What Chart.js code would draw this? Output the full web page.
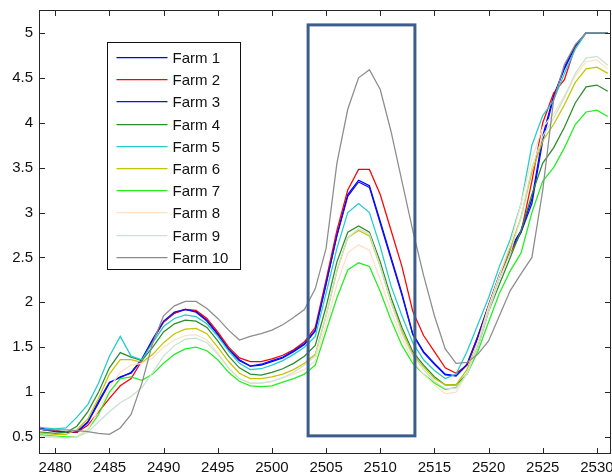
<!DOCTYPE html>
<html>
<head>
<meta charset="utf-8">
<script src="https://cdn.jsdelivr.net/npm/chart.js@4.4.1/dist/chart.umd.min.js"></script>
<style>
  html, body { margin: 0; padding: 0; background: #fff; }
  canvas { display: block; }
</style>
</head>
<body>
<canvas id="spectra" width="612" height="476"></canvas>
<script>
// Wavelength samples (one per unit) and per-farm readings.
const wavelengths = [
  2478, 2479, 2480, 2481, 2482, 2483, 2484, 2485, 2486, 2487,
  2488, 2489, 2490, 2491, 2492, 2493, 2494, 2495, 2496, 2497,
  2498, 2499, 2500, 2501, 2502, 2503, 2504, 2505, 2506, 2507,
  2508, 2509, 2510, 2511, 2512, 2513, 2514, 2515, 2516, 2517,
  2518, 2519, 2520, 2521, 2522, 2523, 2524, 2525, 2526, 2527,
  2528, 2529, 2530, 2531
];

const farm1 = [
  0.61, 0.59, 0.57, 0.55, 0.55, 0.66, 0.88, 1.10, 1.17, 1.21,
  1.36, 1.58, 1.78, 1.88, 1.92, 1.90, 1.80, 1.65, 1.48, 1.36,
  1.29, 1.30, 1.34, 1.38, 1.45, 1.53, 1.68, 2.20, 2.75, 3.20,
  3.36, 3.30, 2.90, 2.50, 2.10, 1.65, 1.45, 1.32, 1.20, 1.18,
  1.30, 1.60, 1.95, 2.30, 2.60, 2.80, 3.15, 3.85, 4.30, 4.60,
  4.85, 5.00, 5.00, 5.00
];
const farm2 = [
  0.60, 0.58, 0.57, 0.55, 0.55, 0.63, 0.78, 0.93, 1.07, 1.15,
  1.35, 1.58, 1.78, 1.88, 1.92, 1.91, 1.82, 1.67, 1.50, 1.38,
  1.34, 1.34, 1.37, 1.41, 1.47, 1.56, 1.72, 2.25, 2.80, 3.25,
  3.48, 3.48, 3.20, 2.80, 2.40, 1.90, 1.63, 1.45, 1.27, 1.21,
  1.30, 1.62, 1.97, 2.30, 2.55, 2.78, 3.35, 4.00, 4.33, 4.48,
  4.85, 5.00, 5.00, 5.00
];
const farm3 = [
  0.60, 0.58, 0.56, 0.55, 0.56, 0.67, 0.90, 1.11, 1.16, 1.22,
  1.37, 1.59, 1.79, 1.89, 1.92, 1.89, 1.79, 1.64, 1.47, 1.35,
  1.29, 1.31, 1.35, 1.39, 1.46, 1.54, 1.69, 2.21, 2.74, 3.18,
  3.34, 3.28, 2.88, 2.48, 2.08, 1.64, 1.44, 1.31, 1.19, 1.18,
  1.31, 1.62, 1.96, 2.31, 2.58, 2.78, 3.10, 3.80, 4.28, 4.62,
  4.86, 5.00, 5.00, 5.00
];
const farm4 = [
  0.56, 0.55, 0.54, 0.55, 0.62, 0.78, 1.00, 1.27, 1.44, 1.39,
  1.35, 1.50, 1.67, 1.76, 1.80, 1.79, 1.72, 1.57, 1.40, 1.27,
  1.20, 1.19, 1.22, 1.26, 1.32, 1.40, 1.52, 1.95, 2.45, 2.78,
  2.85, 2.78, 2.45, 2.05, 1.72, 1.45, 1.30, 1.17, 1.08, 1.08,
  1.20, 1.50, 1.90, 2.20, 2.50, 2.80, 3.20, 3.55, 3.72, 3.95,
  4.22, 4.40, 4.42, 4.35
];
const farm5 = [
  0.62, 0.60, 0.59, 0.60, 0.72, 0.86, 1.10, 1.40, 1.62, 1.40,
  1.36, 1.55, 1.73, 1.82, 1.86, 1.84, 1.76, 1.62, 1.46, 1.32,
  1.25, 1.26, 1.30, 1.35, 1.42, 1.50, 1.62, 2.10, 2.60, 3.00,
  3.10, 3.00, 2.62, 2.18, 1.85, 1.55, 1.36, 1.24, 1.15, 1.20,
  1.45, 1.75, 2.05, 2.40, 2.70, 3.10, 3.75, 4.08, 4.25, 4.55,
  4.82, 5.00, 5.00, 5.00
];
const farm6 = [
  0.55, 0.54, 0.53, 0.53, 0.58, 0.70, 0.93, 1.20, 1.36, 1.36,
  1.33, 1.42, 1.55, 1.65, 1.70, 1.71, 1.65, 1.50, 1.34, 1.21,
  1.15, 1.15, 1.17, 1.20, 1.25, 1.32, 1.42, 1.85, 2.35, 2.72,
  2.80, 2.74, 2.40, 2.00, 1.68, 1.42, 1.28, 1.15, 1.08, 1.08,
  1.25, 1.55, 1.95, 2.30, 2.60, 2.95, 3.45, 3.80, 3.98, 4.20,
  4.45, 4.60, 4.62, 4.55
];
const farm7 = [
  0.53, 0.52, 0.51, 0.50, 0.50, 0.58, 0.75, 1.00, 1.15, 1.17,
  1.13, 1.20, 1.32, 1.42, 1.48, 1.50, 1.46, 1.36, 1.22, 1.12,
  1.07, 1.06, 1.07, 1.11, 1.15, 1.20, 1.30, 1.68, 2.05, 2.36,
  2.44, 2.40, 2.12, 1.80, 1.52, 1.32, 1.20, 1.10, 1.03, 1.05,
  1.20, 1.45, 1.78, 2.10, 2.35, 2.55, 3.00, 3.35, 3.50, 3.72,
  3.98, 4.12, 4.14, 4.07
];
const farm8 = [
  0.52, 0.50, 0.49, 0.49, 0.50, 0.58, 0.80, 1.05, 1.22, 1.30,
  1.32, 1.38, 1.50, 1.58, 1.63, 1.64, 1.58, 1.44, 1.27, 1.15,
  1.10, 1.10, 1.12, 1.16, 1.20, 1.25, 1.35, 1.75, 2.20, 2.55,
  2.64, 2.58, 2.25, 1.90, 1.60, 1.35, 1.20, 1.08, 0.98, 1.00,
  1.20, 1.55, 1.95, 2.30, 2.65, 3.10, 3.60, 3.95, 4.10, 4.30,
  4.52, 4.68, 4.70, 4.60
];
const farm9 = [
  0.53, 0.51, 0.50, 0.49, 0.50, 0.55, 0.67, 0.78, 0.88, 0.95,
  1.05, 1.22, 1.40, 1.52, 1.59, 1.60, 1.55, 1.42, 1.27, 1.15,
  1.10, 1.10, 1.12, 1.16, 1.22, 1.30, 1.40, 1.85, 2.35, 2.72,
  2.82, 2.76, 2.40, 2.00, 1.65, 1.40, 1.25, 1.12, 1.04, 1.04,
  1.20, 1.50, 1.90, 2.25, 2.55, 2.95, 3.50, 3.85, 4.05, 4.28,
  4.55, 4.72, 4.74, 4.64
];
const farm10 = [
  0.60, 0.58, 0.58, 0.58, 0.57, 0.56, 0.54, 0.53, 0.60, 0.75,
  1.10, 1.55, 1.85, 1.96, 2.01, 2.01, 1.93, 1.82, 1.69, 1.58,
  1.62, 1.65, 1.69, 1.75, 1.83, 1.92, 2.15, 2.60, 3.55, 4.15,
  4.50, 4.59, 4.37, 3.90, 3.35, 2.80, 2.30, 1.85, 1.48, 1.32,
  1.33, 1.42, 1.57, 1.85, 2.13, 2.32, 2.50, 3.25, 4.25, 4.65,
  4.87, 5.00, 5.00, 5.00
];

const farmNames = ['Farm 1', 'Farm 2', 'Farm 3', 'Farm 4', 'Farm 5',
                   'Farm 6', 'Farm 7', 'Farm 8', 'Farm 9', 'Farm 10'];
const farmSeries = [farm1, farm2, farm3, farm4, farm5, farm6, farm7, farm8, farm9, farm10];
const farmColors = ['#0000ff', '#ff0000', '#1010f0', '#2a8c2a', '#22cccc',
                    '#c4c400', '#22ee22', '#fbe2c6', '#c9e3cf', '#8c8c8c'];

const xTicks = [2480, 2485, 2490, 2495, 2500, 2505, 2510, 2515, 2520, 2525, 2530];
const yTicks = [0.5, 1, 1.5, 2, 2.5, 3, 3.5, 4, 4.5, 5];

// highlighted band, in data units
const boxRange = { x0: 2503.34, x1: 2513.2, y0: 0.512, y1: 5.09 };

const FONT = '"Liberation Sans", Arial, Helvetica, sans-serif';

const datasets = farmSeries.map(function(vals, i) {
    return {
        label: farmNames[i],
        data: wavelengths.map(function(w, j) { return { x: w, y: vals[j] }; }),
        borderColor: farmColors[i],
        backgroundColor: farmColors[i],
        borderWidth: 1.25,
        pointRadius: 0,
        tension: 0,
        fill: false,
        order: farmSeries.length - 1 - i   // later farms painted on top, like matlab
    };
});

const axesFrame = {
    id: 'axesFrame',
    beforeDraw(chart) {
        const ctx = chart.ctx;
        ctx.save();
        ctx.fillStyle = '#fff';
        ctx.fillRect(0, 0, chart.width, chart.height);
        ctx.restore();
    },
    afterDatasetsDraw(chart) {
        const ctx = chart.ctx;
        const a = chart.chartArea;
        const xs = chart.scales.x, ys = chart.scales.y;

        // box annotation
        ctx.save();
        ctx.strokeStyle = '#3c5d8c';
        ctx.lineWidth = 3;
        const bx0 = xs.getPixelForValue(boxRange.x0), bx1 = xs.getPixelForValue(boxRange.x1);
        const by0 = ys.getPixelForValue(boxRange.y1), by1 = ys.getPixelForValue(boxRange.y0);
        ctx.strokeRect(bx0, by0, bx1 - bx0, by1 - by0);
        ctx.restore();

        // frame + inward ticks
        ctx.save();
        ctx.strokeStyle = '#262626';
        ctx.lineWidth = 1;
        ctx.strokeRect(a.left + 0.5, a.top + 0.5, a.right - a.left - 1, a.bottom - a.top - 1);
        ctx.beginPath();
        xTicks.forEach(function(t) {
            const px = Math.round(xs.getPixelForValue(t)) + 0.5;
            ctx.moveTo(px, a.bottom); ctx.lineTo(px, a.bottom - 6);
            ctx.moveTo(px, a.top); ctx.lineTo(px, a.top + 6);
        });
        yTicks.forEach(function(t) {
            const py = Math.round(ys.getPixelForValue(t)) + 0.5;
            ctx.moveTo(a.left, py); ctx.lineTo(a.left + 6, py);
            ctx.moveTo(a.right, py); ctx.lineTo(a.right - 6, py);
        });
        ctx.stroke();
        ctx.restore();

        // legend box inside the axes
        const lx = a.left + 68.5, ly = a.top + 32.5, lw = 133, lh = 227;
        ctx.save();
        ctx.fillStyle = '#fff';
        ctx.fillRect(lx, ly, lw, lh);
        ctx.strokeStyle = '#111';
        ctx.lineWidth = 1;
        ctx.strokeRect(lx, ly, lw, lh);
        ctx.font = '15px ' + FONT;
        ctx.textBaseline = 'middle';
        farmNames.forEach(function(name, i) {
            const rowY = Math.round(ly + 14.5 + i * 22.2) + 0.5;
            ctx.beginPath();
            ctx.strokeStyle = farmColors[i];
            ctx.lineWidth = 1.25;
            ctx.moveTo(lx + 9, rowY);
            ctx.lineTo(lx + 60, rowY);
            ctx.stroke();
            ctx.fillStyle = '#111';
            ctx.fillText(name, lx + 65, rowY + 1);
        });
        ctx.restore();
    }
};

new Chart(document.getElementById('spectra'), {
    type: 'line',
    data: { datasets: datasets },
    plugins: [axesFrame],
    options: {
        responsive: false,
        animation: false,
        devicePixelRatio: 1,
        layout: { padding: { top: 10, right: 1, left: 0, bottom: 0 } },
        plugins: {
            legend: { display: false },
            tooltip: { enabled: false }
        },
        scales: {
            x: {
                type: 'linear',
                min: 2478.5,
                max: 2531.3,
                grid: { display: false, drawTicks: false },
                border: { display: false },
                ticks: {
                    color: '#111',
                    font: { family: FONT, size: 15 },
                    padding: 5,
                    maxRotation: 0,
                    autoSkip: false,
                    callback: function(v) { return String(v); }
                },
                afterBuildTicks: function(s) { s.ticks = xTicks.map(function(v) { return { value: v }; }); },
                afterFit: function(s) { s.height = 22; s.paddingLeft = 0; s.paddingRight = 0; }
            },
            y: {
                type: 'linear',
                min: 0.31,
                max: 5.256,
                grid: { display: false, drawTicks: false },
                border: { display: false },
                ticks: {
                    color: '#111',
                    font: { family: FONT, size: 15 },
                    padding: 6,
                    callback: function(v) { return String(v); }
                },
                afterBuildTicks: function(s) { s.ticks = yTicks.map(function(v) { return { value: v }; }); },
                afterFit: function(s) { s.width = 39; s.paddingTop = 0; s.paddingBottom = 0; }
            }
        }
    }
});
</script>
</body>
</html>
